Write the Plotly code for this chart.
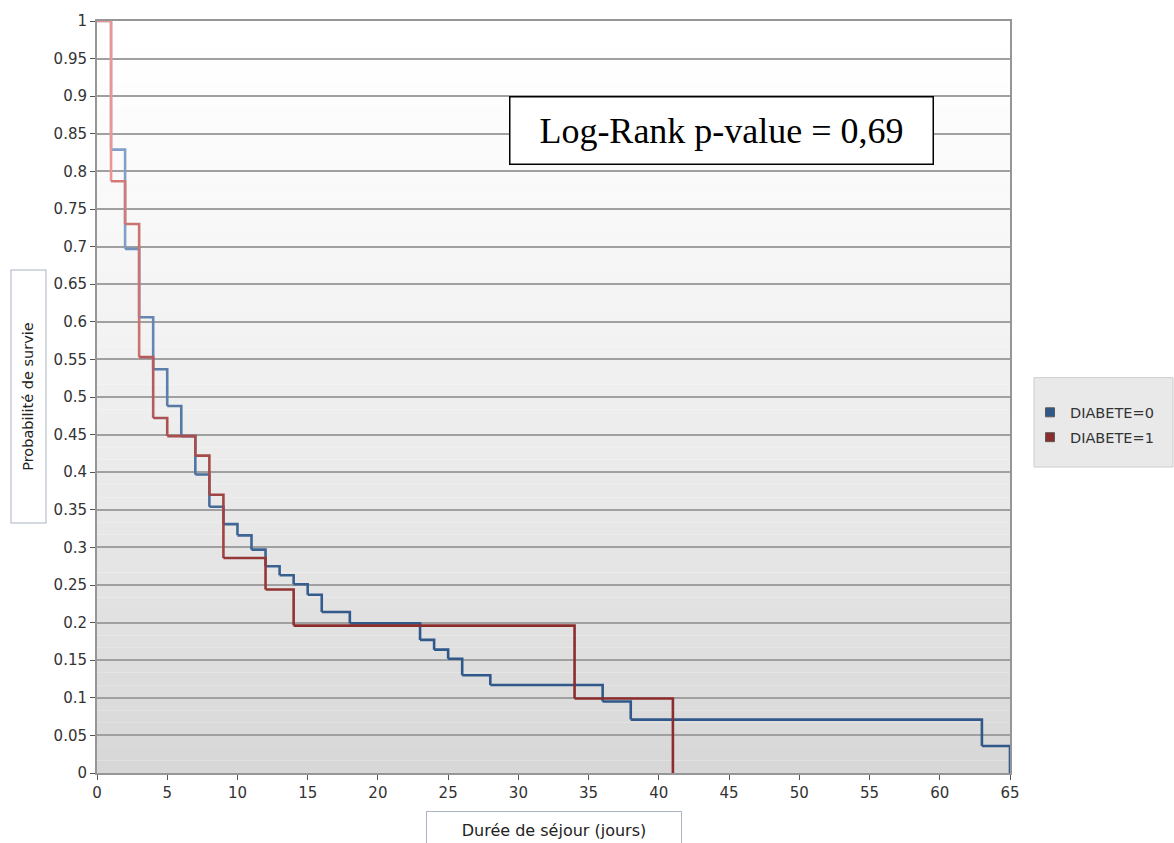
import plotly.graph_objects as go

# ---- data (Kaplan-Meier step estimates) ----
blue_times = [0, 1, 2, 3, 4, 5, 6, 7, 8, 9, 10, 11, 12, 13, 14, 15, 16, 18, 23, 24, 25, 26, 28, 36, 38, 63, 65]
blue_surv = [1.0, 0.829, 0.697, 0.606, 0.537, 0.488, 0.448, 0.397, 0.354, 0.331, 0.316, 0.297, 0.275, 0.263,
             0.251, 0.237, 0.214, 0.199, 0.177, 0.164, 0.152, 0.130, 0.117, 0.095, 0.071, 0.036, 0.0]
red_times = [0, 1, 2, 3, 4, 5, 7, 8, 9, 12, 14, 34, 41]
red_surv = [1.0, 0.787, 0.730, 0.553, 0.472, 0.448, 0.422, 0.370, 0.286, 0.244, 0.196, 0.099, 0.0]

series_names = ["DIABETE=0", "DIABETE=1"]
y_tick_vals = [0, 0.05, 0.1, 0.15, 0.2, 0.25, 0.3, 0.35, 0.4, 0.45, 0.5, 0.55, 0.6, 0.65, 0.7, 0.75, 0.8,
               0.85, 0.9, 0.95, 1]
y_tick_text = ["0", "0.05", "0.1", "0.15", "0.2", "0.25", "0.3", "0.35", "0.4", "0.45", "0.5", "0.55", "0.6",
               "0.65", "0.7", "0.75", "0.8", "0.85", "0.9", "0.95", "1"]
x_tick_vals = list(range(0, 66, 5))

# ---- styling ----
light_blue, dark_blue = (150, 180, 215), (48, 88, 138)
light_red, dark_red = (235, 150, 150), (140, 45, 45)


def mix(light, dark, v):
    t = max(0.0, min(1.0, (v - 0.2) / 0.8))
    c = [round(d + (l - d) * t) for l, d in zip(light, dark)]
    return f"rgb({c[0]},{c[1]},{c[2]})"


fig = go.Figure()


def add_km(times, surv, light, dark, name, legend):
    n = len(times)
    for i in range(n - 1):
        xs = [times[i], times[i + 1], times[i + 1]]
        ys = [surv[i], surv[i], surv[i + 1]]
        fig.add_trace(go.Scatter(x=xs, y=ys, mode="lines", line=dict(color=mix(light, dark, surv[i]), width=2.6),
                                 showlegend=False, hoverinfo="skip", legendgroup=name))
    fig.add_trace(go.Scatter(x=[None], y=[None], mode="markers", name=name, legendgroup=name, legend=legend,
                             marker=dict(symbol="square", size=9,
                                         color=f"rgb{dark}",
                                         line=dict(color="rgb(90,90,90)", width=1))))


add_km(blue_times, blue_surv, light_blue, dark_blue, series_names[0], "legend")
add_km(red_times, red_surv, light_red, dark_red, series_names[1], "legend2")

# background gradient bands in plot area
shapes = []
nb = 60
for k in range(nb):
    y0 = k / nb
    y1 = (k + 1) / nb
    frac = (y0 + y1) / 2
    g = round(255 - 40 * (1 - frac) ** 1.3)
    shapes.append(dict(type="rect", xref="paper", yref="paper", x0=0, x1=1, y0=y0, y1=y1,
                       fillcolor=f"rgb({g},{g},{g})", line=dict(width=0), layer="below"))
# legend box
shapes.append(dict(type="rect", xref="paper", yref="paper", x0=(1034 - 97) / 913, x1=(1173 - 97) / 913,
                   y0=(773 - 465) / 757, y1=(773 - 375) / 757, fillcolor="rgb(233,233,233)",
                   line=dict(color="rgb(205,205,205)", width=1), layer="below"))

annotations = [
    dict(text="Log-Rank p-value = 0,69", xref="paper", yref="paper", x=(721 - 97) / 913, y=(773 - 126.5) / 757,
         xanchor="center", yanchor="middle",
         showarrow=False, font=dict(family="Liberation Serif", size=36, color="black"),
         bordercolor="black", borderwidth=1.5, bgcolor="white", width=420, height=64),
    dict(text="Probabilité de survie", xref="paper", yref="paper", x=(28 - 97) / 913, y=(773 - 394) / 757,
         xanchor="center", yanchor="middle",
         showarrow=False, textangle=-90, font=dict(family="DejaVu Sans", size=14.5, color="#222"),
         bordercolor="rgb(170,180,195)", borderwidth=1, bgcolor="white", width=250, height=32),
    dict(text="Durée de séjour (jours)", xref="paper", yref="paper", x=(554 - 97) / 913, y=(773 - 830) / 757,
         xanchor="center", yanchor="middle",
         showarrow=False, font=dict(family="DejaVu Sans", size=16, color="#222"),
         bordercolor="rgb(170,180,195)", borderwidth=1, bgcolor="white", width=252, height=34),
]

axis_font = dict(family="DejaVu Sans", size=15, color="#333")
legend_font = dict(family="DejaVu Sans", size=14.5, color="#333")
fig.update_layout(
    width=1174, height=843,
    margin=dict(l=97, r=164, t=16, b=70),
    paper_bgcolor="white", plot_bgcolor="rgba(0,0,0,0)",
    shapes=shapes, annotations=annotations,
    legend=dict(x=(1030 - 97) / 913, y=(773 - 410) / 757, xanchor="left", yanchor="middle",
                bgcolor="rgba(0,0,0,0)", font=legend_font),
    legend2=dict(x=(1030 - 97) / 913, y=(773 - 435) / 757, xanchor="left", yanchor="middle",
                 bgcolor="rgba(0,0,0,0)", font=legend_font),
    xaxis=dict(range=[0, 65], tickvals=x_tick_vals, showgrid=False, zeroline=False, showline=True,
               linecolor="rgb(150,150,150)", linewidth=2, mirror=True, ticks="outside", ticklen=5,
               tickcolor="#555", tickfont=axis_font),
    yaxis=dict(range=[0, 1], tickvals=y_tick_vals, ticktext=y_tick_text, showgrid=True,
               gridcolor="rgb(160,160,160)", gridwidth=1.5, zeroline=False, showline=True,
               linecolor="rgb(150,150,150)", linewidth=2, mirror=True, ticks="outside", ticklen=5,
               tickcolor="#555", tickfont=axis_font),
)

fig.write_html("out.html")
